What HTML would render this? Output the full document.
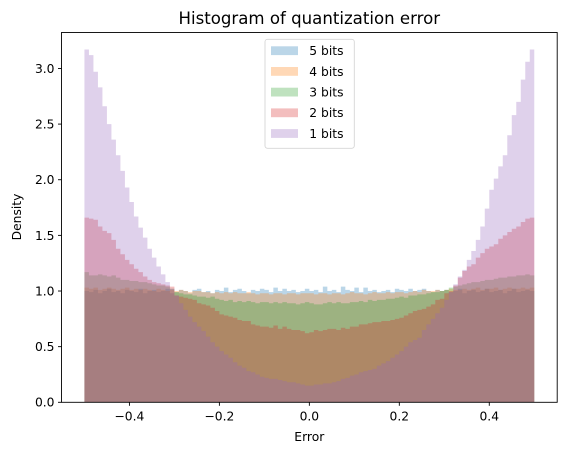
<!DOCTYPE html>
<html><head><meta charset="utf-8"><style>
body{margin:0;background:#fff;}
svg text{font-family:"DejaVu Sans","Liberation Sans",sans-serif;fill:#000;}
</style></head><body>
<svg id="chart" width="567" height="455" viewBox="0 0 567 455" xmlns="http://www.w3.org/2000/svg">
<rect x="0" y="0" width="567" height="455" fill="#fff"/>
<g id="bars"></g>
<g id="axes"></g>
<text x="309.3" y="24" font-size="16.6" text-anchor="middle">Histogram of quantization error</text>
<text x="309.3" y="441" font-size="12.3" text-anchor="middle">Error</text>
<text x="21" y="217" font-size="12.3" text-anchor="middle" transform="rotate(-90 21 217)">Density</text>
<g id="legend"></g>
</svg>
<script>
const seriesLabels = ["5 bits","4 bits","3 bits","2 bits","1 bits"];
const seriesColors = ["#1f77b4","#ff7f0e","#2ca02c","#d62728","#9467bd"];
const binStart = -0.5, binWidth = 0.01;
const xTicks = [-0.4,-0.2,0.0,0.2,0.4];
const xTickLabels = ["\u22120.4","\u22120.2","0.0","0.2","0.4"];
const yTicks = [0,0.5,1.0,1.5,2.0,2.5,3.0];
const yTickLabels = ["0.0","0.5","1.0","1.5","2.0","2.5","3.0"];
const bits5 = [1.00,0.99,1.01,0.98,1.00,1.02,0.99,1.00,0.98,1.01,1.00,0.99,1.02,0.98,1.00,1.01,0.99,1.00,1.02,0.98,0.99,1.01,1.00,0.98,1.01,1.02,0.99,1.00,0.98,1.01,1.00,1.03,0.99,1.01,1.02,1.00,0.98,1.01,1.00,1.02,1.01,0.99,1.03,1.00,1.02,1.00,1.01,0.99,1.00,1.02,1.00,1.01,0.99,1.04,1.00,1.01,0.99,1.04,1.01,1.00,1.03,0.99,1.03,1.00,1.01,0.99,1.00,1.01,0.99,1.02,1.01,1.00,1.02,1.00,1.01,1.02,1.00,0.99,1.01,1.00,1.01,0.99,1.00,1.02,0.98,1.00,1.01,0.99,1.00,1.02,0.99,1.00,1.01,0.98,1.00,1.02,0.99,1.00,1.01,1.00];
const bits4 = [1.03,1.02,1.03,1.01,1.02,1.03,1.02,1.01,1.02,1.03,1.01,1.02,1.01,1.02,1.01,1.00,1.02,1.01,1.00,1.01,1.00,1.01,1.00,0.99,1.00,1.00,0.99,0.99,0.98,0.99,0.98,0.99,0.98,0.99,0.98,0.98,0.99,0.98,0.97,0.98,0.98,0.97,0.98,0.98,0.97,0.98,0.98,0.97,0.98,0.98,0.98,0.97,0.98,0.98,0.97,0.98,0.98,0.97,0.98,0.99,0.98,0.98,0.97,0.98,0.99,0.98,0.98,0.99,0.98,0.99,0.99,0.98,0.99,1.00,0.99,1.01,1.00,1.00,1.01,1.00,1.01,1.02,1.01,1.01,1.02,1.01,1.02,1.03,1.01,1.02,1.02,1.03,1.01,1.02,1.03,1.02,1.02,1.03,1.02,1.03];
const bits3 = [1.17,1.14,1.14,1.15,1.14,1.13,1.14,1.12,1.10,1.10,1.09,1.09,1.08,1.08,1.07,1.06,1.05,1.05,1.04,1.02,0.99,0.98,0.97,0.97,0.96,0.95,0.95,0.94,0.95,0.93,0.92,0.91,0.92,0.90,0.91,0.90,0.91,0.90,0.89,0.90,0.90,0.89,0.90,0.89,0.90,0.89,0.89,0.88,0.89,0.90,0.89,0.88,0.88,0.89,0.90,0.89,0.90,0.89,0.89,0.90,0.90,0.91,0.90,0.92,0.91,0.92,0.92,0.93,0.93,0.94,0.95,0.94,0.96,0.96,0.97,0.97,0.98,0.99,0.99,1.00,1.01,1.03,1.04,1.05,1.06,1.07,1.08,1.08,1.09,1.10,1.10,1.11,1.12,1.12,1.13,1.13,1.14,1.14,1.15,1.14];
const bits2 = [1.66,1.65,1.64,1.58,1.54,1.52,1.46,1.38,1.33,1.28,1.24,1.20,1.17,1.13,1.10,1.08,1.07,1.06,1.05,1.04,0.96,0.95,0.94,0.93,0.92,0.89,0.88,0.87,0.85,0.82,0.79,0.78,0.77,0.76,0.74,0.73,0.73,0.70,0.69,0.68,0.68,0.67,0.69,0.66,0.68,0.66,0.65,0.65,0.64,0.62,0.63,0.65,0.64,0.65,0.66,0.66,0.65,0.67,0.66,0.68,0.68,0.70,0.70,0.71,0.72,0.72,0.73,0.73,0.74,0.75,0.76,0.78,0.80,0.82,0.83,0.84,0.86,0.88,0.92,0.93,0.98,1.00,1.05,1.12,1.18,1.22,1.24,1.30,1.34,1.38,1.40,1.42,1.47,1.50,1.53,1.56,1.58,1.62,1.65,1.66];
const bits1 = [3.17,3.12,2.97,2.83,2.66,2.50,2.36,2.22,2.08,1.93,1.80,1.67,1.57,1.48,1.38,1.30,1.22,1.15,1.08,1.02,0.96,0.89,0.83,0.77,0.72,0.68,0.64,0.59,0.54,0.50,0.46,0.43,0.40,0.36,0.33,0.31,0.28,0.27,0.25,0.23,0.22,0.21,0.21,0.20,0.19,0.18,0.18,0.17,0.16,0.15,0.15,0.16,0.16,0.17,0.17,0.18,0.19,0.21,0.22,0.24,0.25,0.27,0.28,0.29,0.30,0.33,0.35,0.37,0.40,0.43,0.46,0.50,0.54,0.56,0.58,0.65,0.70,0.75,0.80,0.85,0.92,0.99,1.06,1.13,1.19,1.28,1.36,1.46,1.58,1.74,1.91,2.01,2.12,2.22,2.40,2.58,2.70,2.90,3.06,3.17];
const seriesData = [bits5,bits4,bits3,bits2,bits1];

const NS = "http://www.w3.org/2000/svg";
const L = 61.5, R = 557.2, T = 32.5, B = 402.3;
const xMin = -0.551, xMax = 0.551, yMin = 0, yMax = 3.323;
function xs(v){return L + (v - xMin) / (xMax - xMin) * (R - L);}
function ys(v){return B - (v - yMin) / (yMax - yMin) * (B - T);}
function mk(tag, attrs, parent){const e=document.createElementNS(NS,tag);for(const k in attrs)e.setAttribute(k,attrs[k]);parent.appendChild(e);return e;}

const barsG = document.getElementById('bars');
seriesData.forEach((vals, s) => {
  let d = "M" + xs(binStart) + "," + ys(0);
  vals.forEach((v, i) => {
    const x0 = xs(binStart + i * binWidth), x1 = xs(binStart + (i + 1) * binWidth);
    d += "L" + x0 + "," + ys(v) + "L" + x1 + "," + ys(v);
  });
  d += "L" + xs(binStart + vals.length * binWidth) + "," + ys(0) + "Z";
  const p = mk('path', {d: d, fill: seriesColors[s], 'fill-opacity': 0.3, stroke: 'none'}, barsG);
  
  
});

const ax = document.getElementById('axes');
const frame = mk('rect', {x: L, y: T, width: R - L, height: B - T, fill: 'none', stroke: '#000', 'stroke-width': 0.9}, ax);


xTicks.forEach((v, i) => {
  const t = mk('line', {x1: xs(v), x2: xs(v), y1: B, y2: B + 3.5, stroke: '#000', 'stroke-width': 0.9}, ax);
  
  
  const lb = mk('text', {x: xs(v), y: B + 18, 'font-size': 12.3, 'text-anchor': 'middle'}, ax);
  lb.textContent = xTickLabels[i];
  
  
});
yTicks.forEach((v, i) => {
  const t = mk('line', {x1: L - 3.5, x2: L, y1: ys(v), y2: ys(v), stroke: '#000', 'stroke-width': 0.9}, ax);
  
  
  const lb = mk('text', {x: L - 7, y: ys(v) + 4.4, 'font-size': 12.3, 'text-anchor': 'end'}, ax);
  lb.textContent = yTickLabels[i];
  
  
});

const lg = document.getElementById('legend');
const box = mk('rect', {x: 265, y: 39.3, width: 89.3, height: 109, rx: 2.5, fill: '#fff', 'fill-opacity': 0.8, stroke: '#d6d6d6', 'stroke-width': 0.9}, lg);


seriesLabels.forEach((lab, i) => {
  const cy = 50.7 + i * 20.7;
  const sw = mk('rect', {x: 271, y: cy - 4.4, width: 27, height: 8.8, fill: seriesColors[i], 'fill-opacity': 0.3}, lg);
  
  
  const tx = mk('text', {x: 309.3, y: cy + 4.4, 'font-size': 12.3}, lg);
  tx.textContent = lab;
  
  
});
</script>
</body></html>
